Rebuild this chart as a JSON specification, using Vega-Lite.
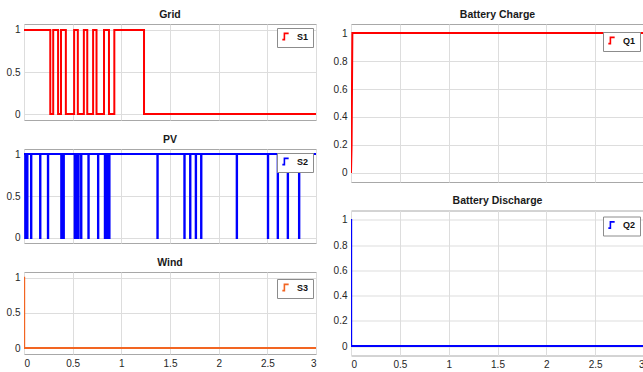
{
  "$schema": "https://vega.github.io/schema/vega-lite/v6.json",
  "padding": {"left": 5, "top": 9, "right": 0, "bottom": 0},
  "background": "white",
  "config": {
    "view": {"stroke": "#a8a8a8", "strokeWidth": 1},
    "font": "Liberation Sans",
    "axis": {
      "grid": true,
      "gridColor": "#dddddd",
      "gridWidth": 1,
      "domain": false,
      "ticks": false,
      "labelFont": "Liberation Sans",
      "labelFontSize": 10,
      "labelColor": "#262626",
      "labelPadding": 4,
      "title": null,
      "format": "~g"
    },
    "title": {
      "font": "Liberation Sans",
      "fontSize": 10.5,
      "fontWeight": "bold",
      "offset": 4,
      "color": "#1a1a1a"
    },
    "legend": {
      "fillColor": "white",
      "strokeColor": "#8c8c8c",
      "padding": 4,
      "symbolType": "M-1,1H-0.35V-1H1",
      "symbolSize": 40,
      "symbolStrokeWidth": 1.6,
      "labelFont": "Liberation Sans",
      "labelFontWeight": "bold",
      "labelFontSize": 9,
      "labelOffset": 7,
      "labelColor": "#111111"
    }
  },
  "datasets": {
    "grid": [
      {"t": 0, "v": 1, "sig": "S1"},
      {"t": 0.27, "v": 0, "sig": "S1"},
      {"t": 0.3, "v": 1, "sig": "S1"},
      {"t": 0.35, "v": 0, "sig": "S1"},
      {"t": 0.38, "v": 1, "sig": "S1"},
      {"t": 0.43, "v": 0, "sig": "S1"},
      {"t": 0.515, "v": 1, "sig": "S1"},
      {"t": 0.553, "v": 0, "sig": "S1"},
      {"t": 0.615, "v": 1, "sig": "S1"},
      {"t": 0.65, "v": 0, "sig": "S1"},
      {"t": 0.71, "v": 1, "sig": "S1"},
      {"t": 0.745, "v": 0, "sig": "S1"},
      {"t": 0.822, "v": 1, "sig": "S1"},
      {"t": 0.873, "v": 0, "sig": "S1"},
      {"t": 0.928, "v": 1, "sig": "S1"},
      {"t": 1.233, "v": 0, "sig": "S1"},
      {"t": 3, "v": 0, "sig": "S1"}
    ],
    "pv": [
      {"t": 0, "v": 1, "sig": "S2"},
      {"t": 0.012, "v": 0, "sig": "S2"}, {"t": 0.016, "v": 1, "sig": "S2"},
      {"t": 0.032, "v": 0, "sig": "S2"}, {"t": 0.036, "v": 1, "sig": "S2"},
      {"t": 0.072, "v": 0, "sig": "S2"}, {"t": 0.076, "v": 1, "sig": "S2"},
      {"t": 0.165, "v": 0, "sig": "S2"}, {"t": 0.169, "v": 1, "sig": "S2"},
      {"t": 0.245, "v": 0, "sig": "S2"}, {"t": 0.249, "v": 1, "sig": "S2"},
      {"t": 0.382, "v": 0, "sig": "S2"}, {"t": 0.386, "v": 1, "sig": "S2"},
      {"t": 0.39, "v": 0, "sig": "S2"}, {"t": 0.394, "v": 1, "sig": "S2"},
      {"t": 0.398, "v": 0, "sig": "S2"}, {"t": 0.402, "v": 1, "sig": "S2"},
      {"t": 0.406, "v": 0, "sig": "S2"}, {"t": 0.41, "v": 1, "sig": "S2"},
      {"t": 0.52, "v": 0, "sig": "S2"}, {"t": 0.524, "v": 1, "sig": "S2"},
      {"t": 0.534, "v": 0, "sig": "S2"}, {"t": 0.538, "v": 1, "sig": "S2"},
      {"t": 0.558, "v": 0, "sig": "S2"}, {"t": 0.562, "v": 1, "sig": "S2"},
      {"t": 0.586, "v": 0, "sig": "S2"}, {"t": 0.59, "v": 1, "sig": "S2"},
      {"t": 0.661, "v": 0, "sig": "S2"}, {"t": 0.665, "v": 1, "sig": "S2"},
      {"t": 0.76, "v": 0, "sig": "S2"}, {"t": 0.764, "v": 1, "sig": "S2"},
      {"t": 0.83, "v": 0, "sig": "S2"}, {"t": 0.834, "v": 1, "sig": "S2"},
      {"t": 0.842, "v": 0, "sig": "S2"}, {"t": 0.846, "v": 1, "sig": "S2"},
      {"t": 0.853, "v": 0, "sig": "S2"}, {"t": 0.857, "v": 1, "sig": "S2"},
      {"t": 0.864, "v": 0, "sig": "S2"}, {"t": 0.868, "v": 1, "sig": "S2"},
      {"t": 0.875, "v": 0, "sig": "S2"}, {"t": 0.879, "v": 1, "sig": "S2"},
      {"t": 1.37, "v": 0, "sig": "S2"}, {"t": 1.374, "v": 1, "sig": "S2"},
      {"t": 1.647, "v": 0, "sig": "S2"}, {"t": 1.651, "v": 1, "sig": "S2"},
      {"t": 1.706, "v": 0, "sig": "S2"}, {"t": 1.71, "v": 1, "sig": "S2"},
      {"t": 1.764, "v": 0, "sig": "S2"}, {"t": 1.768, "v": 1, "sig": "S2"},
      {"t": 1.819, "v": 0, "sig": "S2"}, {"t": 1.823, "v": 1, "sig": "S2"},
      {"t": 2.185, "v": 0, "sig": "S2"}, {"t": 2.189, "v": 1, "sig": "S2"},
      {"t": 2.505, "v": 0, "sig": "S2"}, {"t": 2.509, "v": 1, "sig": "S2"},
      {"t": 2.606, "v": 0, "sig": "S2"}, {"t": 2.61, "v": 1, "sig": "S2"},
      {"t": 2.709, "v": 0, "sig": "S2"}, {"t": 2.713, "v": 1, "sig": "S2"},
      {"t": 2.825, "v": 0, "sig": "S2"}, {"t": 2.829, "v": 1, "sig": "S2"},
      {"t": 3, "v": 1, "sig": "S2"}
    ],
    "wind": [
      {"t": 0, "v": 1, "sig": "S3"},
      {"t": 0.002, "v": 0, "sig": "S3"},
      {"t": 3, "v": 0, "sig": "S3"}
    ],
    "charge": [
      {"t": 0, "v": 0, "sig": "Q1"},
      {"t": 0.006, "v": 0.2, "sig": "Q1"},
      {"t": 0.014, "v": 1, "sig": "Q1"},
      {"t": 3, "v": 1, "sig": "Q1"}
    ],
    "discharge": [
      {"t": 0, "v": 1, "sig": "Q2"},
      {"t": 0.002, "v": 0, "sig": "Q2"},
      {"t": 3, "v": 0, "sig": "Q2"}
    ]
  },
  "resolve": {"scale": {"color": "independent"}, "legend": {"color": "independent"}},
  "spacing": 15,
  "hconcat": [
    {
      "spacing": 13,
      "resolve": {"scale": {"color": "independent"}, "legend": {"color": "independent"}},
      "vconcat": [
        {
          "title": "Grid",
          "width": 292,
          "height": 96,
          "data": {"name": "grid"},
          "mark": {"type": "line", "interpolate": "step-after", "strokeWidth": 2, "clip": true},
          "encoding": {
            "x": {"field": "t", "type": "quantitative", "scale": {"domain": [0, 3], "nice": false},
                  "axis": {"values": [0, 0.5, 1, 1.5, 2, 2.5, 3], "labels": false}},
            "y": {"field": "v", "type": "quantitative", "scale": {"domain": [-0.07, 1.07], "nice": false, "zero": false},
                  "axis": {"values": [0, 0.5, 1]}},
            "color": {"field": "sig", "type": "nominal", "scale": {"range": ["#ff0000"]},
                      "legend": {"title": null, "orient": "none", "legendX": 253, "legendY": 4}}
          }
        },
        {
          "title": "PV",
          "width": 292,
          "height": 94,
          "data": {"name": "pv"},
          "mark": {"type": "line", "interpolate": "step-after", "strokeWidth": 2, "clip": true},
          "encoding": {
            "x": {"field": "t", "type": "quantitative", "scale": {"domain": [0, 3], "nice": false},
                  "axis": {"values": [0, 0.5, 1, 1.5, 2, 2.5, 3], "labels": false}},
            "y": {"field": "v", "type": "quantitative", "scale": {"domain": [-0.06, 1.06], "nice": false, "zero": false},
                  "axis": {"values": [0, 0.5, 1]}},
            "color": {"field": "sig", "type": "nominal", "scale": {"range": ["#0000ff"]},
                      "legend": {"title": null, "orient": "none", "legendX": 253, "legendY": 4}}
          }
        },
        {
          "title": "Wind",
          "width": 292,
          "height": 82,
          "data": {"name": "wind"},
          "mark": {"type": "line", "interpolate": "step-after", "strokeWidth": 2, "clip": true},
          "encoding": {
            "x": {"field": "t", "type": "quantitative", "scale": {"domain": [0, 3], "nice": false},
                  "axis": {"values": [0, 0.5, 1, 1.5, 2, 2.5, 3]}},
            "y": {"field": "v", "type": "quantitative", "scale": {"domain": [-0.085, 1.08], "nice": false, "zero": false},
                  "axis": {"values": [0, 0.5, 1]}},
            "color": {"field": "sig", "type": "nominal", "scale": {"range": ["#f26522"]},
                      "legend": {"title": null, "orient": "none", "legendX": 253, "legendY": 7}}
          }
        }
      ]
    },
    {
      "spacing": 12.5,
      "resolve": {"scale": {"color": "independent"}, "legend": {"color": "independent"}},
      "vconcat": [
        {
          "title": "Battery Charge",
          "width": 293,
          "height": 158,
          "data": {"name": "charge"},
          "mark": {"type": "line", "strokeWidth": 2, "clip": true},
          "encoding": {
            "x": {"field": "t", "type": "quantitative", "scale": {"domain": [0, 3], "nice": false},
                  "axis": {"values": [0, 0.5, 1, 1.5, 2, 2.5, 3], "labels": false}},
            "y": {"field": "v", "type": "quantitative", "scale": {"domain": [-0.065, 1.065], "nice": false, "zero": false},
                  "axis": {"values": [0, 0.2, 0.4, 0.6, 0.8, 1]}},
            "color": {"field": "sig", "type": "nominal", "scale": {"range": ["#ff0000"]},
                      "legend": {"title": null, "orient": "none", "legendX": 252, "legendY": 8}}
          }
        },
        {
          "title": "Battery Discharge",
          "width": 293,
          "height": 145,
          "data": {"name": "discharge"},
          "mark": {"type": "line", "interpolate": "step-after", "strokeWidth": 2, "clip": true},
          "encoding": {
            "x": {"field": "t", "type": "quantitative", "scale": {"domain": [0, 3], "nice": false},
                  "axis": {"values": [0, 0.5, 1, 1.5, 2, 2.5, 3]}},
            "y": {"field": "v", "type": "quantitative", "scale": {"domain": [-0.075, 1.075], "nice": false, "zero": false},
                  "axis": {"values": [0, 0.2, 0.4, 0.6, 0.8, 1]}},
            "color": {"field": "sig", "type": "nominal", "scale": {"range": ["#0000ff"]},
                      "legend": {"title": null, "orient": "none", "legendX": 252, "legendY": 6}}
          }
        }
      ]
    }
  ]
}
